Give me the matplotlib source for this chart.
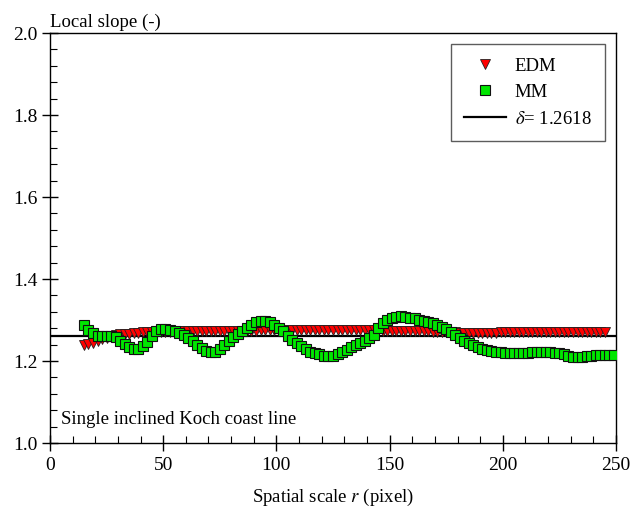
import numpy as np
import matplotlib
matplotlib.use("Agg")
import matplotlib.pyplot as plt
from matplotlib.ticker import MultipleLocator

plt.rcParams["font.family"] = ["Liberation Serif", "DejaVu Serif"]
plt.rcParams["mathtext.fontset"] = "stix"

# spatial scale r (pixel)
r_mm = np.arange(15, 250, 2)
r_edm = np.arange(15, 246, 2)

mm_slope = [
    1.288, 1.276, 1.268, 1.262, 1.260, 1.260, 1.261, 1.258, 1.250, 1.242,
    1.235, 1.230, 1.229, 1.236, 1.247, 1.260, 1.272, 1.277, 1.278, 1.276,
    1.272, 1.268, 1.263, 1.256, 1.248, 1.240, 1.231, 1.225, 1.221, 1.222,
    1.229, 1.238, 1.249, 1.259, 1.266, 1.274, 1.281, 1.287, 1.294, 1.298,
    1.298, 1.294, 1.288, 1.281, 1.272, 1.261, 1.252, 1.244, 1.237, 1.230,
    1.223, 1.219, 1.216, 1.213, 1.212, 1.213, 1.216, 1.221, 1.228, 1.233,
    1.238, 1.243, 1.248, 1.255, 1.263, 1.280, 1.292, 1.301, 1.305, 1.308,
    1.309, 1.308, 1.306, 1.304, 1.301, 1.298, 1.296, 1.292, 1.288, 1.283,
    1.277, 1.270, 1.263, 1.257, 1.250, 1.244, 1.239, 1.234, 1.230, 1.227,
    1.225, 1.223, 1.221, 1.220, 1.219, 1.219, 1.219, 1.219, 1.220, 1.221,
    1.222, 1.222, 1.222, 1.221, 1.220, 1.219, 1.216, 1.213, 1.210, 1.209,
    1.210, 1.211, 1.213, 1.214, 1.215, 1.215, 1.215, 1.215,
]

edm_slope = [
    1.238, 1.241, 1.245, 1.249, 1.253, 1.257, 1.260, 1.263, 1.265, 1.266,
    1.267, 1.268, 1.269, 1.270, 1.270, 1.271, 1.271, 1.271, 1.271, 1.271,
    1.272, 1.272, 1.272, 1.272, 1.272, 1.272, 1.272, 1.273, 1.273, 1.273,
    1.273, 1.273, 1.273, 1.274, 1.274, 1.274, 1.274, 1.274, 1.274, 1.275,
    1.275, 1.275, 1.275, 1.275, 1.275, 1.275, 1.276, 1.276, 1.276, 1.276,
    1.276, 1.276, 1.276, 1.276, 1.276, 1.276, 1.276, 1.276, 1.276, 1.276,
    1.276, 1.275, 1.275, 1.275, 1.275, 1.275, 1.274, 1.274, 1.274, 1.274,
    1.274, 1.273, 1.273, 1.273, 1.272, 1.272, 1.272, 1.271, 1.271, 1.270,
    1.270, 1.270, 1.270, 1.269, 1.269, 1.269, 1.269, 1.269, 1.269, 1.269,
    1.269, 1.269, 1.270, 1.270, 1.270, 1.270, 1.270, 1.270, 1.270, 1.270,
    1.270, 1.270, 1.270, 1.270, 1.270, 1.270, 1.270, 1.270, 1.270, 1.270,
    1.270, 1.270, 1.270, 1.270, 1.270, 1.270,
]

delta = 1.2618

fig = plt.figure(figsize=(6.32, 5.11), dpi=100)
ax = fig.add_axes([50 / 632, 1 - 443 / 511, 566 / 632, 410 / 511])

ax.axhline(delta, color="black", lw=1.6, zorder=1, label=r"$\delta$= 1.2618")
ax.plot(r_edm, edm_slope, linestyle="none", marker="v", ms=7.5,
        mfc="#ff0000", mec="#222222", mew=0.6, zorder=2, label="EDM")
ax.plot(r_mm, mm_slope, linestyle="none", marker="s", ms=7,
        mfc="#00e600", mec="#111111", mew=0.8, zorder=3, label="MM")

ax.set_xlim(0, 250)
ax.set_ylim(1.0, 2.0)
ax.xaxis.set_major_locator(MultipleLocator(50))
ax.xaxis.set_minor_locator(MultipleLocator(10))
ax.yaxis.set_major_locator(MultipleLocator(0.2))
ax.yaxis.set_minor_locator(MultipleLocator(0.04))
ax.yaxis.set_major_formatter(matplotlib.ticker.FormatStrFormatter("%.1f"))

ax.tick_params(which="major", direction="inout", length=12, width=1,
               labelsize=14, top=False, right=False)
ax.tick_params(which="minor", direction="in", length=5, width=0.8,
               top=False, right=False)
ax.tick_params(axis="x", which="major", pad=4)
ax.tick_params(axis="y", which="major", pad=3)
for s in ax.spines.values():
    s.set_linewidth(1.0)

ax.set_xlabel(r"Spatial scale $r$ (pixel)", fontsize=13.5, labelpad=9)
ax.text(0.0, 1.006, "Local slope (-)", transform=ax.transAxes,
        ha="left", va="bottom", fontsize=13.5)
ax.text(5, 1.057, "Single inclined Koch coast line", fontsize=13.5,
        ha="left", va="center")

handles, labels = ax.get_legend_handles_labels()
order = [1, 2, 0]
leg = ax.legend([handles[i] for i in order], [labels[i] for i in order],
                loc="upper right", fontsize=13.5, numpoints=1,
                frameon=True, fancybox=False, handlelength=2.2,
                handletextpad=0.5, borderaxespad=0.6, labelspacing=0.5,
                borderpad=0.7)
leg.get_frame().set_edgecolor("#333333")
leg.get_frame().set_linewidth(1.0)

fig.savefig("out.png", dpi=100, facecolor="white")
